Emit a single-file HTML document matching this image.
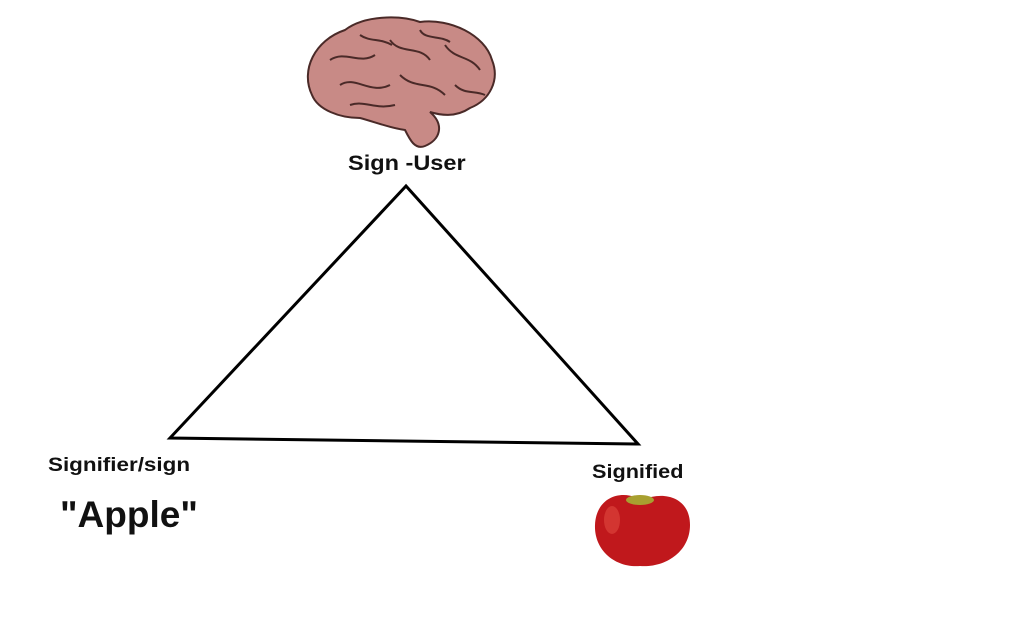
<!DOCTYPE html>
<html><head><meta charset="utf-8"><style>
html,body{margin:0;padding:0;background:#fff;width:1024px;height:640px;overflow:hidden}
.t{position:absolute;font-family:"Liberation Sans",sans-serif;font-weight:bold;color:#111;white-space:nowrap;transform-origin:left top}
</style></head><body>
<svg width="1024" height="640" style="position:absolute;left:0;top:0">
<g>
<path d="M312,95 C300,70 315,40 345,30 C365,15 400,15 420,22 C450,18 485,35 492,60 C500,80 490,100 470,108 C455,118 440,115 430,112 C445,125 440,140 425,146 C415,150 410,140 405,130 C390,128 375,122 360,118 C340,118 318,110 312,95 Z" fill="#c88a86" stroke="#4a2a28" stroke-width="2"/>
<path d="M330,60 C345,50 360,65 375,55 M390,40 C400,55 420,45 430,60 M445,45 C455,60 470,55 480,70 M340,85 C355,75 370,95 390,85 M400,75 C415,90 430,80 445,95 M455,85 C465,95 475,90 485,95 M350,105 C365,100 375,110 395,105 M420,30 C425,40 440,35 450,42 M360,35 C370,42 380,38 392,45" fill="none" stroke="#4a2a28" stroke-width="2"/>
</g>
<polygon points="406,186 170,438 638,444" fill="none" stroke="#000" stroke-width="3"/>
<g>
<path d="M642,500 C620,488 596,498 595,525 C594,550 615,568 640,566 C665,568 690,552 690,525 C690,498 665,490 642,500 Z" fill="#c0181c"/>
<ellipse cx="640" cy="500" rx="14" ry="5" fill="#a8a030"/>
<ellipse cx="612" cy="520" rx="8" ry="14" fill="#e04a40" opacity="0.6"/>
</g>
</svg>
<div class="t" style="left:348px;top:152px;font-size:21px;transform:scaleX(1.12)">Sign -User</div>
<div class="t" style="left:48px;top:455px;font-size:19px;transform:scaleX(1.18)">Signifier/sign</div>
<div class="t" style="left:60px;top:494px;font-size:37px">"Apple"</div>
<div class="t" style="left:592px;top:462px;font-size:19px;transform:scaleX(1.14)">Signified</div>
</body></html>
